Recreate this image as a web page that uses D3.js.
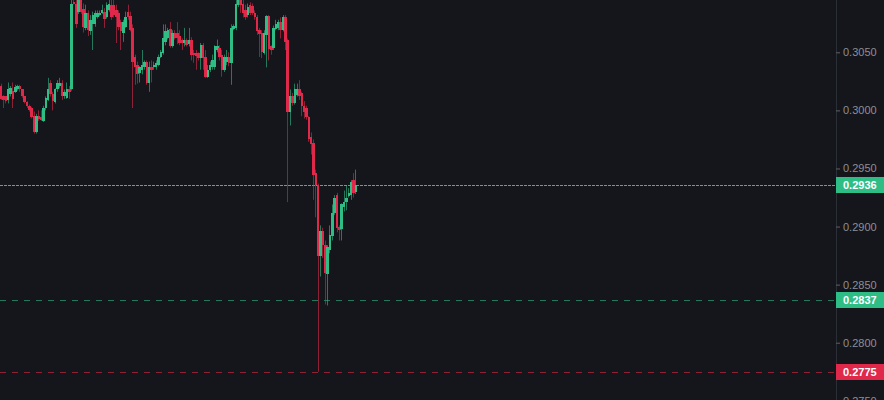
<!DOCTYPE html>
<html>
<head>
<meta charset="utf-8">
<script src="https://cdn.jsdelivr.net/npm/d3@7"></script>
<style>
  html, body { margin: 0; padding: 0; background: #15161b; }
  svg { display: block; }
</style>
</head>
<body>
<svg id="chart" width="884" height="400"></svg>
<script>
const open = [
  0.3021,0.3012,0.3012,0.3009,0.3014,0.3017,0.3016,0.3018,0.3021,0.3018,
  0.3012,0.3007,0.3004,0.3002,0.2995,0.2981,0.2995,0.2994,0.2991,0.3002,
  0.3009,0.3024,0.3014,0.3007,0.3018,0.3021,0.3024,0.3012,0.3011,0.3018,
  0.3018,0.3093,0.3092,0.3085,0.3095,0.3087,0.3071,0.3084,0.3068,0.3074,
  0.3074,0.3080,0.3082,0.3084,0.3085,0.3080,0.3086,0.3091,0.3091,0.3086,
  0.3084,0.3076,0.3067,0.3072,0.3085,0.3081,0.3071,0.3046,0.3039,0.3032,
  0.3035,0.3037,0.3042,0.3024,0.3037,0.3037,0.3037,0.3039,0.3046,0.3049,
  0.3059,0.3062,0.3070,0.3055,0.3067,0.3067,0.3064,0.3061,0.3058,0.3061,
  0.3057,0.3061,0.3049,0.3049,0.3049,0.3045,0.3056,0.3046,0.3029,0.3035,
  0.3037,0.3037,0.3052,0.3054,0.3048,0.3035,0.3042,0.3046,0.3041,0.3070,
  0.3071,0.3091,0.3095,0.3092,0.3086,0.3082,0.3091,0.3090,0.3084,0.3080,
  0.3069,0.3067,0.3049,0.3065,0.3081,0.3055,0.3054,0.3070,0.3071,0.3076,
  0.3069,0.3080,0.3061,0.2999,0.3012,0.3006,0.3013,0.3018,0.3015,0.3004,
  0.3002,0.2994,0.2977,0.2972,0.2946,0.2936,0.2875,0.2896,0.2884,0.2859,
  0.2880,0.2892,0.2912,0.2927,0.2900,0.2898,0.2917,0.2921,0.2926,0.2927,
  0.2940,0.2930
];
const close = [
  0.3010,0.3009,0.3008,0.3018,0.3019,0.3010,0.3020,0.3021,0.3018,0.3012,
  0.3007,0.3004,0.3000,0.2994,0.2981,0.2995,0.2993,0.2992,0.3002,0.3011,
  0.3018,0.3014,0.3008,0.3018,0.3024,0.3024,0.3012,0.3016,0.3018,0.3016,
  0.3092,0.3092,0.3074,0.3095,0.3085,0.3072,0.3084,0.3069,0.3078,0.3082,
  0.3084,0.3084,0.3084,0.3086,0.3079,0.3091,0.3092,0.3080,0.3082,0.3080,
  0.3072,0.3068,0.3076,0.3080,0.3080,0.3069,0.3042,0.3037,0.3031,0.3037,
  0.3039,0.3042,0.3024,0.3037,0.3035,0.3039,0.3041,0.3046,0.3050,0.3062,
  0.3068,0.3069,0.3055,0.3067,0.3062,0.3062,0.3058,0.3058,0.3061,0.3056,
  0.3061,0.3048,0.3048,0.3047,0.3045,0.3056,0.3045,0.3029,0.3035,0.3039,
  0.3043,0.3055,0.3055,0.3046,0.3035,0.3046,0.3046,0.3041,0.3071,0.3073,
  0.3092,0.3095,0.3091,0.3084,0.3080,0.3089,0.3084,0.3084,0.3080,0.3068,
  0.3066,0.3050,0.3067,0.3081,0.3053,0.3052,0.3071,0.3074,0.3076,0.3069,
  0.3080,0.3059,0.2999,0.3012,0.3006,0.3018,0.3018,0.3012,0.3004,0.2999,
  0.2994,0.2975,0.2971,0.2944,0.2936,0.2875,0.2896,0.2884,0.2860,0.2882,
  0.2893,0.2912,0.2925,0.2899,0.2897,0.2919,0.2921,0.2925,0.2929,0.2938,
  0.2929,0.2936
];
const high = [
  0.3023,0.3013,0.3012,0.3024,0.3021,0.3024,0.3022,0.3022,0.3022,0.3018,
  0.3012,0.3008,0.3005,0.3003,0.2999,0.2997,0.3000,0.3000,0.3004,0.3012,
  0.3028,0.3026,0.3016,0.3019,0.3026,0.3028,0.3026,0.3018,0.3024,0.3021,
  0.3095,0.3095,0.3095,0.3096,0.3097,0.3092,0.3091,0.3086,0.3082,0.3085,
  0.3086,0.3086,0.3086,0.3091,0.3088,0.3093,0.3095,0.3096,0.3096,0.3091,
  0.3086,0.3078,0.3078,0.3085,0.3091,0.3085,0.3074,0.3048,0.3042,0.3038,
  0.3052,0.3043,0.3043,0.3042,0.3043,0.3042,0.3043,0.3048,0.3052,0.3074,
  0.3074,0.3071,0.3076,0.3069,0.3069,0.3076,0.3069,0.3062,0.3071,0.3062,
  0.3071,0.3063,0.3052,0.3052,0.3050,0.3058,0.3058,0.3052,0.3039,0.3042,
  0.3048,0.3056,0.3061,0.3056,0.3052,0.3048,0.3052,0.3050,0.3074,0.3074,
  0.3095,0.3097,0.3097,0.3096,0.3091,0.3092,0.3093,0.3092,0.3086,0.3082,
  0.3071,0.3069,0.3069,0.3082,0.3082,0.3056,0.3073,0.3078,0.3078,0.3080,
  0.3082,0.3082,0.3062,0.3018,0.3015,0.3023,0.3023,0.3026,0.3016,0.3008,
  0.3004,0.2995,0.2981,0.2975,0.2949,0.2937,0.2901,0.2899,0.2888,0.2884,
  0.2901,0.2919,0.2927,0.2929,0.2901,0.2920,0.2931,0.2935,0.2933,0.2940,
  0.2946,0.2949
];
const low = [
  0.3009,0.3002,0.3006,0.3006,0.3012,0.3002,0.3015,0.3017,0.3016,0.3011,
  0.3006,0.3002,0.2999,0.2993,0.2980,0.2980,0.2991,0.2991,0.2990,0.3000,
  0.3008,0.3012,0.3000,0.3006,0.3016,0.3019,0.3009,0.3010,0.3010,0.3010,
  0.3017,0.3091,0.3071,0.3083,0.3083,0.3067,0.3069,0.3064,0.3065,0.3052,
  0.3072,0.3079,0.3081,0.3083,0.3071,0.3079,0.3085,0.3078,0.3080,0.3058,
  0.3069,0.3052,0.3059,0.3071,0.3078,0.3068,0.3002,0.3022,0.3023,0.3024,
  0.3031,0.3035,0.3022,0.3016,0.3024,0.3035,0.3035,0.3038,0.3045,0.3048,
  0.3056,0.3061,0.3054,0.3054,0.3061,0.3057,0.3056,0.3052,0.3055,0.3055,
  0.3055,0.3043,0.3041,0.3035,0.3043,0.3035,0.3035,0.3028,0.3028,0.3033,
  0.3035,0.3035,0.3050,0.3043,0.3029,0.3033,0.3039,0.3038,0.3022,0.3069,
  0.3069,0.3089,0.3084,0.3080,0.3078,0.3080,0.3082,0.3082,0.3078,0.3065,
  0.3046,0.3045,0.3048,0.3037,0.3043,0.3048,0.3052,0.3069,0.3069,0.3062,
  0.3068,0.3052,0.2921,0.2987,0.3004,0.3005,0.3012,0.3009,0.2995,0.2993,
  0.2992,0.2973,0.2962,0.2923,0.2908,0.2775,0.2857,0.2873,0.2833,0.2832,
  0.2877,0.2888,0.2910,0.2895,0.2888,0.2888,0.2913,0.2914,0.2925,0.2923,
  0.2925,0.2928
];
const tickValues = [0.2750, 0.2800, 0.2850, 0.2900, 0.2950, 0.3000, 0.3050];
const levelPrices = [0.2936, 0.2837, 0.2775]; // last price, marked low, lowest low

const W = 884, H = 400, axisX = 836;
const GREEN = "#2ebd85", RED = "#e0294a";
const N = close.length;
const candles = d3.range(N).map(i => ({i, o: open[i], h: high[i], l: low[i], c: close[i]}));

const svg = d3.select("#chart");
svg.append("rect").attr("width", W).attr("height", H).attr("fill", "#15161b");

const x = d3.scaleLinear().domain([-0.5, N - 0.5]).range([0, 357]);
const y = d3.scaleLinear().domain([0.2750, 0.3050]).range([400.8, 52.3]);
const half = 1.25;

const plot = svg.append("g");
// level lines
const lvlColor = [GREEN, GREEN, RED];
const lvlDash = ["3,1", "6,6", "6,6"];
const lvlOpacity = [1, 0.6, 0.6];
plot.selectAll("line.level").data(levelPrices).join("line")
  .attr("class", "level")
  .attr("x1", 0).attr("x2", axisX)
  .attr("y1", d => Math.round(y(d)) + 0.5).attr("y2", d => Math.round(y(d)) + 0.5)
  .attr("stroke", (d, k) => lvlColor[k])
  .attr("stroke-opacity", (d, k) => lvlOpacity[k])
  .attr("stroke-dasharray", (d, k) => lvlDash[k])
  .attr("shape-rendering", "crispEdges")
  .attr("stroke-width", 1);

// wicks
plot.selectAll("line.wick").data(candles).join("line")
  .attr("class", "wick")
  .attr("x1", d => Math.floor(x(d.i)) + 0.5).attr("x2", d => Math.floor(x(d.i)) + 0.5)
  .attr("y1", d => y(d.h)).attr("y2", d => y(d.l))
  .attr("stroke", d => d.c >= d.o ? GREEN : RED)
  .attr("stroke-opacity", 0.6)
  .attr("stroke-width", 1);

// bodies
plot.selectAll("rect.body").data(candles).join("rect")
  .attr("class", "body")
  .attr("x", d => Math.round(x(d.i) - half))
  .attr("width", d => Math.max(2, Math.round(x(d.i) + half) - Math.round(x(d.i) - half)))
  .attr("y", d => y(Math.max(d.o, d.c)))
  .attr("height", d => Math.max(1, Math.abs(y(d.o) - y(d.c))))
  .attr("fill", d => d.c >= d.o ? GREEN : RED)
  .attr("shape-rendering", "crispEdges");

// axis
svg.append("line").attr("x1", axisX + 0.5).attr("x2", axisX + 0.5).attr("y1", 0).attr("y2", H)
  .attr("stroke", "#2b3036").attr("stroke-width", 1);

const fmt = d3.format(".4f");
const axis = d3.axisRight(y).tickValues(tickValues).tickFormat(fmt).tickSize(4).tickPadding(3);
const ag = svg.append("g").attr("transform", `translate(${axisX},0)`).call(axis);
ag.select(".domain").remove();
ag.selectAll(".tick line").attr("stroke", "#5d6168");
ag.selectAll(".tick text")
  .attr("fill", "#8c8f96")
  .attr("font-family", "'Liberation Sans', Arial, sans-serif")
  .attr("font-size", 11);

// price labels
const lbl = svg.append("g").selectAll("g").data(levelPrices).join("g")
  .attr("transform", d => `translate(${axisX},${Math.round(y(d))})`);
lbl.append("rect").attr("x", 0).attr("y", -8).attr("width", W - axisX).attr("height", 16)
  .attr("fill", (d, k) => lvlColor[k]);
lbl.append("text").attr("x", 7).attr("y", 0).attr("dy", "0.35em")
  .attr("fill", "#ffffff").attr("font-weight", "bold")
  .attr("font-family", "'Liberation Sans', Arial, sans-serif").attr("font-size", 11)
  .text(d => fmt(d));
</script>
</body>
</html>
